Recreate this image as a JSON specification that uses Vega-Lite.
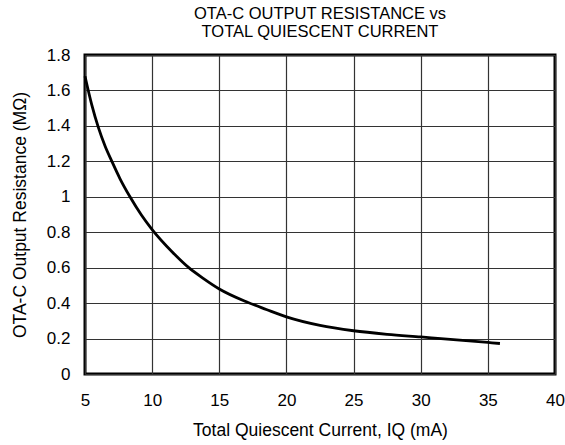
{
  "$schema": "https://vega.github.io/schema/vega-lite/v6.json",
  "width": 470,
  "height": 319,
  "autosize": "none",
  "padding": {"left": 85, "top": 55, "right": 10, "bottom": 71},
  "background": "white",
  "title": {
    "text": ["OTA-C OUTPUT RESISTANCE vs", "TOTAL QUIESCENT CURRENT"],
    "font": "Liberation Sans",
    "fontSize": 16.5,
    "fontWeight": "normal",
    "color": "black",
    "lineHeight": 18,
    "offset": 6,
    "anchor": "middle"
  },
  "config": {
    "view": {"stroke": "black", "strokeWidth": 3},
    "font": "Liberation Sans",
    "axis": {
      "labelFont": "Liberation Sans",
      "titleFont": "Liberation Sans",
      "labelFontSize": 17,
      "titleFontSize": 17.5,
      "titleFontWeight": "normal",
      "labelColor": "black",
      "titleColor": "black",
      "ticks": false,
      "domain": false,
      "labelFlush": false,
      "labelBound": false,
      "labelOverlap": false,
      "gridColor": "#333",
      "gridOpacity": 1,
      "gridWidth": 1.2
    }
  },
  "data": {
    "values": [
      {"iq": 5.0, "r": 1.68},
      {"iq": 5.5, "r": 1.52},
      {"iq": 6.0, "r": 1.39},
      {"iq": 6.5, "r": 1.285},
      {"iq": 7.0, "r": 1.2},
      {"iq": 7.6, "r": 1.103},
      {"iq": 8.35, "r": 1.0},
      {"iq": 9.2, "r": 0.897},
      {"iq": 10.0, "r": 0.815},
      {"iq": 11.48, "r": 0.69},
      {"iq": 12.73, "r": 0.6},
      {"iq": 13.8, "r": 0.54},
      {"iq": 15.0, "r": 0.48},
      {"iq": 17.1, "r": 0.405},
      {"iq": 18.5, "r": 0.364},
      {"iq": 20.0, "r": 0.322},
      {"iq": 22.5, "r": 0.274},
      {"iq": 25.0, "r": 0.244},
      {"iq": 27.5, "r": 0.224},
      {"iq": 30.0, "r": 0.209},
      {"iq": 35.0, "r": 0.178},
      {"iq": 35.9, "r": 0.172}
    ]
  },
  "mark": {"type": "line", "color": "black", "strokeWidth": 2.8, "interpolate": "monotone"},
  "encoding": {
    "x": {
      "field": "iq",
      "type": "quantitative",
      "scale": {"domain": [5, 40], "nice": false, "zero": false},
      "axis": {"values": [5, 10, 15, 20, 25, 30, 35, 40], "labelPadding": 18, "title": "Total Quiescent Current, IQ (mA)", "titlePadding": 13}
    },
    "y": {
      "field": "r",
      "type": "quantitative",
      "scale": {"domain": [0, 1.8], "nice": false},
      "axis": {"values": [0, 0.2, 0.4, 0.6, 0.8, 1, 1.2, 1.4, 1.6, 1.8], "format": ".1~f", "labelPadding": 15, "title": "OTA-C Output Resistance (MΩ)", "titlePadding": 17}
    }
  }
}
